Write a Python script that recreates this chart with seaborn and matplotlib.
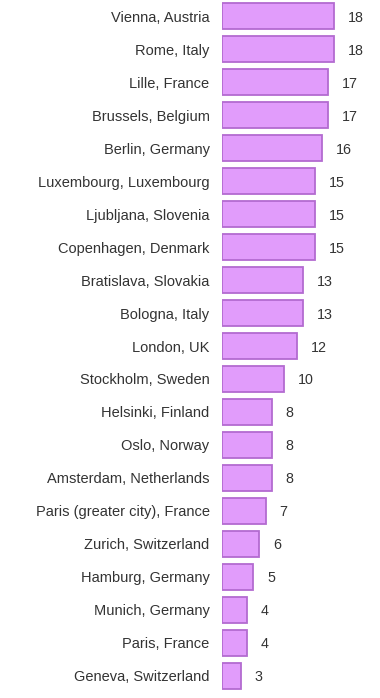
import matplotlib
matplotlib.use("Agg")
import matplotlib.pyplot as plt
import seaborn as sns
import pandas as pd

cities = [
    "Vienna, Austria", "Rome, Italy", "Lille, France", "Brussels, Belgium",
    "Berlin, Germany", "Luxembourg, Luxembourg", "Ljubljana, Slovenia",
    "Copenhagen, Denmark", "Bratislava, Slovakia", "Bologna, Italy",
    "London, UK", "Stockholm, Sweden", "Helsinki, Finland", "Oslo, Norway",
    "Amsterdam, Netherlands", "Paris (greater city), France",
    "Zurich, Switzerland", "Hamburg, Germany", "Munich, Germany",
    "Paris, France", "Geneva, Switzerland",
]
values = [18, 18, 17, 17, 16, 15, 15, 15, 13, 13, 12, 10, 8, 8, 8, 7, 6, 5, 4, 4, 3]

df = pd.DataFrame({"city": cities, "value": values})

sns.set_style("white")
plt.rcParams["font.family"] = ["Liberation Sans", "DejaVu Sans"]

fig = plt.figure(figsize=(3.8, 6.98), dpi=100)
ax = fig.add_axes([222 / 380, 6 / 698, 158 / 380, 692 / 698])

sns.barplot(data=df, x="value", y="city", ax=ax, color="#e19cfb",
            edgecolor="#b36bd0", linewidth=1.3, width=0.79, saturation=1)

# value labels to the right of each bar
for i, v in enumerate(values):
    ax.annotate(str(v), (v, i), xytext=(10, 0), textcoords="offset points",
                va="center_baseline", ha="left", fontsize=10.3, color="#333333")

ax.set_xlim(0, 158 / 6.22)
ax.set_ylim(20.5, -0.5)
ax.set_xlabel("")
ax.set_ylabel("")
ax.set_xticks([])
ax.tick_params(axis="y", length=0, pad=9, labelsize=10.5, labelcolor="#333333")
sns.despine(ax=ax, left=True, bottom=True)

fig.savefig("out.png", dpi=100)
